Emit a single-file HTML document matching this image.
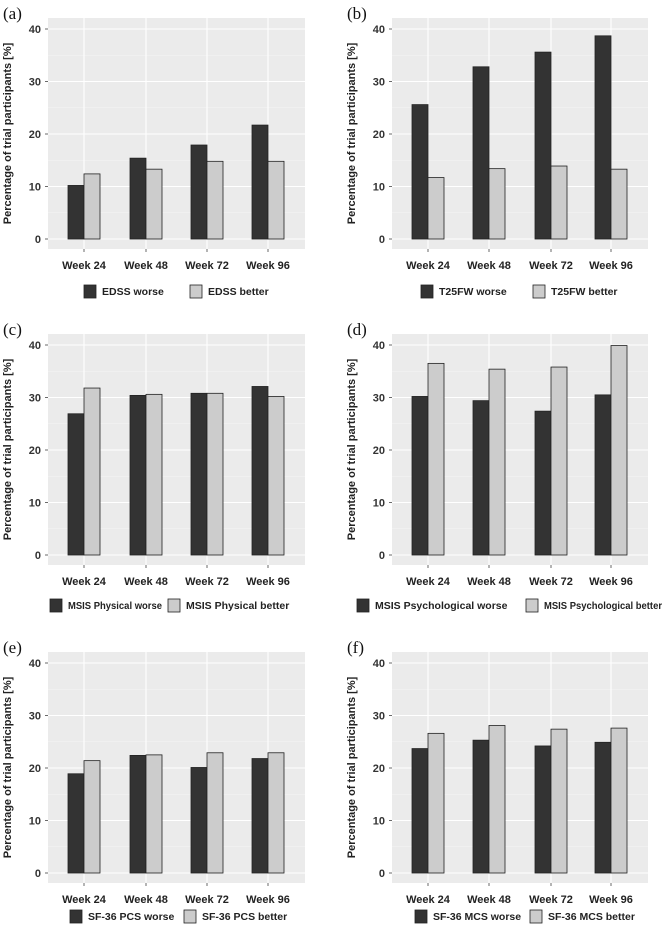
<!DOCTYPE html>
<html><head><meta charset="utf-8"><style>
body{margin:0;background:#fff;}
svg{display:block;font-family:"Liberation Sans",sans-serif;}
</style></head><body>
<svg id="chart" width="664" height="929" viewBox="0 0 664 929" xmlns="http://www.w3.org/2000/svg"></svg>
<script>
const categories = ["Week 24","Week 48","Week 72","Week 96"];
const yTicks = [0,10,20,30,40];
const aWorse = [10.2,15.4,17.9,21.7];
const aBetter = [12.4,13.3,14.8,14.8];
const bWorse = [25.6,32.8,35.6,38.7];
const bBetter = [11.7,13.4,13.9,13.3];
const cWorse = [26.9,30.4,30.8,32.1];
const cBetter = [31.8,30.6,30.8,30.2];
const dWorse = [30.2,29.4,27.4,30.5];
const dBetter = [36.5,35.4,35.8,39.9];
const eWorse = [18.9,22.4,20.1,21.8];
const eBetter = [21.4,22.5,22.9,22.9];
const fWorse = [23.7,25.3,24.2,24.9];
const fBetter = [26.6,28.1,27.4,27.6];
const seriesNames = [["EDSS worse","EDSS better"],["T25FW worse","T25FW better"],["MSIS Physical worse","MSIS Physical better"],["MSIS Psychological worse","MSIS Psychological better"],["SF-36 PCS worse","SF-36 PCS better"],["SF-36 MCS worse","SF-36 MCS better"]];
const panelLabels = ["(a)","(b)","(c)","(d)","(e)","(f)"];
const panelData = [[aWorse,aBetter],[bWorse,bBetter],[cWorse,cBetter],[dWorse,dBetter],[eWorse,eBetter],[fWorse,fBetter]];

const NS="http://www.w3.org/2000/svg";
const svg=document.getElementById('chart');
function mk(tag,attrs,parent,text){const e=document.createElementNS(NS,tag);for(const k in attrs)e.setAttribute(k,attrs[k]);if(text!==undefined)e.textContent=text;(parent||svg).appendChild(e);return e;}

const colLeft=[48,392], colRight=[305,648];
const colCenters=[[84,146,207,268],[428,489,551,611]];
const rowZero=[239,555,873];
const legendDy=[52,50,43];
const legendX=[[84,190],[421,533],[50,168],[357,526],[70,184],[415,530]];
const pxPer10=52.5;

panelData.forEach((pd,i)=>{
  const col=i%2,row=Math.floor(i/2);
  const g=mk('g',{},svg);
  
  
  const z=rowZero[row];
  const y=v=>z-v/10*pxPer10;
  const xC=k=>colCenters[col][k];
  const L=colLeft[col],R=colRight[col];
  const top=y(40)-11,bot=z+10;
  const bg=mk('rect',{x:L,y:top,width:R-L,height:bot-top,fill:'#ebebeb'},g);
  
  for(let v=5;v<40;v+=10){mk('line',{x1:L,x2:R,y1:y(v),y2:y(v),stroke:'#f5f5f5','stroke-width':0.6},g);}
  yTicks.forEach(v=>{
    mk('line',{x1:L,x2:R,y1:y(v),y2:y(v),stroke:'#fff','stroke-width':1.1},g);
    mk('line',{x1:L-3,x2:L,y1:y(v),y2:y(v),stroke:'#444','stroke-width':0.8},g);
    const t=mk('text',{x:L-7,y:y(v)+4,'text-anchor':'end','font-size':11,'font-weight':'bold',fill:'#333'},g,String(v));
    
  });
  categories.forEach((c,k)=>{
    mk('line',{x1:xC(k),x2:xC(k),y1:top,y2:bot,stroke:'#fff','stroke-width':1.1},g);
    mk('line',{x1:xC(k),x2:xC(k),y1:bot,y2:bot+3,stroke:'#444','stroke-width':0.8},g);
    const t=mk('text',{x:xC(k),y:z+30,'text-anchor':'middle','font-size':11,'font-weight':'bold',fill:'#222'},g,c);
    
  });
  const fills=['#333333','#cccccc'];
  pd.forEach((vals,s)=>{
    vals.forEach((v,k)=>{
      const x=s===0?xC(k)-16:xC(k);
      const b=mk('rect',{x:x,y:y(v),width:16,height:z-y(v),fill:fills[s],stroke:'#222','stroke-width':0.8},g);
      
      
    });
  });
  const yt=mk('text',{transform:`translate(${L-37},${(top+bot)/2}) rotate(-90)`,'text-anchor':'middle','font-size':11,'font-weight':'bold',fill:'#222'},g,'Percentage of trial participants [%]');
  
  const pl=mk('text',{x:L-45,y:top+1,'font-size':17,fill:'#111','font-family':'"Liberation Serif",serif'},g,panelLabels[i]);
  
  const ly=z+legendDy[row];
  seriesNames[i].forEach((n,s)=>{
    const lx=legendX[i][s];
    const lg=mk('g',{},g);
    
    mk('rect',{x:lx,y:ly-6,width:12,height:13,fill:fills[s],stroke:'#222','stroke-width':0.8},lg);
    const tx=lx+18;
    const t=mk('text',{x:tx,y:ly+4,'font-size':10.5,'font-weight':'bold',fill:'#222'},lg,n);
    const maxW=(s===0?legendX[i][1]-6:(col?662:330))-tx;
    if(t.getComputedTextLength()>maxW){t.setAttribute('textLength',maxW);t.setAttribute('lengthAdjust','spacingAndGlyphs');}
  });
});
</script>
</body></html>
